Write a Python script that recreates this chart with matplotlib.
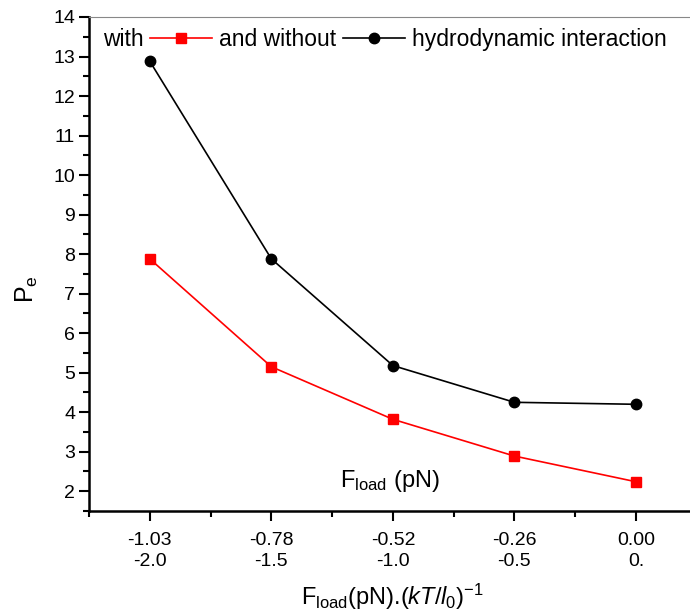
import matplotlib.pyplot as plt
from matplotlib.lines import Line2D
from matplotlib.ticker import MultipleLocator

plt.rcParams['font.family'] = ['Liberation Sans', 'DejaVu Sans']
plt.rcParams['mathtext.fontset'] = 'custom'
plt.rcParams['mathtext.rm'] = 'Liberation Sans'
plt.rcParams['mathtext.it'] = 'Liberation Sans:italic'

# data
f_load = [-2.0, -1.5, -1.0, -0.5, 0.0]
f_reduced = ['-1.03', '-0.78', '-0.52', '-0.26', '0.00']
f_labels = ['-2.0', '-1.5', '-1.0', '-0.5', '0.']
pe_with = [7.88, 5.15, 3.82, 2.89, 2.24]
pe_without = [12.88, 7.88, 5.18, 4.25, 4.20]

fig = plt.figure(figsize=(6.9, 6.13), dpi=100)
ax = fig.add_axes([0.129, 0.1664, 0.8808, 0.8059])

ax.plot(f_load, pe_with, color='red', marker='s', markersize=7, lw=1.2, zorder=3)
ax.plot(f_load, pe_without, color='black', marker='o', markersize=7.5, lw=1.2, zorder=3)

ax.set_xlim(-2.25, 0.25)
ax.set_ylim(1.5, 14)
ax.set_xticks(f_load)
ax.set_xticklabels([a + '\n' + b for a, b in zip(f_reduced, f_labels)],
                   linespacing=1.35)
ax.xaxis.set_minor_locator(MultipleLocator(0.25))
ax.yaxis.set_major_locator(MultipleLocator(1))
ax.yaxis.set_minor_locator(MultipleLocator(0.5))

for s in ['left', 'bottom']:
    ax.spines[s].set_linewidth(1.8)
ax.spines['right'].set_visible(False)
ax.spines['top'].set_color('#888888')
ax.spines['top'].set_linewidth(0.8)

ax.tick_params(which='major', direction='out', length=7, width=1.5, labelsize=14, pad=8)
ax.tick_params(which='minor', direction='out', length=4, width=1.5)
ax.tick_params(axis='y', pad=3)

ax.set_ylabel(r'P$_{\rm e}$', fontsize=18)
ax.yaxis.set_label_coords(-0.08, 0.45)
ax.set_xlabel(r'F$_{\rm load}$(pN).($kT/l_0$)$^{-1}$', fontsize=17, labelpad=8)
ax.text(0.495, 0.06, r'F$_{\rm load}$ (pN)', transform=ax.transAxes,
        fontsize=17, ha='center', va='center')

h_red = Line2D([], [], color='red', marker='s', markersize=7, lw=1.2)
h_blk = Line2D([], [], color='black', marker='o', markersize=7.5, lw=1.2)
h_none = Line2D([], [], color='none')
ax.legend([h_red, h_blk, h_none], ['with', 'and without', 'hydrodynamic interaction'],
          loc='upper left', bbox_to_anchor=(0.0, 1.006), ncol=3, frameon=False,
          markerfirst=False, fontsize=16.5, handlelength=2.7, handletextpad=0.3,
          columnspacing=0.3, borderaxespad=0.2)

fig.savefig('out.png', dpi=100)
